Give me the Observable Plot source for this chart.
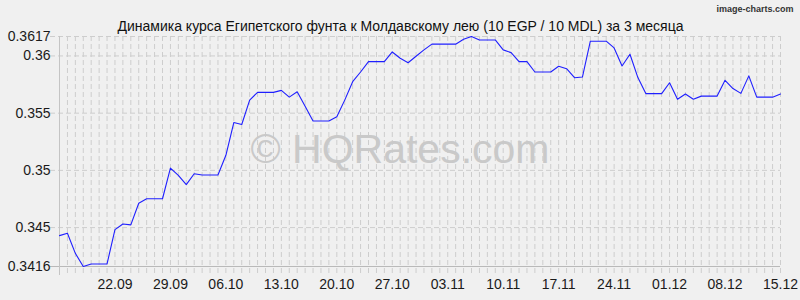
<!DOCTYPE html>
<html><head><meta charset="utf-8">
<script src="https://cdn.jsdelivr.net/npm/d3@7"></script>
<script src="https://cdn.jsdelivr.net/npm/@observablehq/plot@0.6"></script>
<style>html,body{margin:0;padding:0;background:#f0f0f0} svg{display:block}</style>
</head><body><div id="chart"></div>
<script>
const title = "Динамика курса Египетского фунта к Молдавскому лею (10 EGP / 10 MDL) за 3 месяца";
const brand = "image-charts.com";
const watermark = "© HQRates.com";

const dates = [
 "2025-09-15","2025-09-16","2025-09-17","2025-09-18","2025-09-19","2025-09-20","2025-09-21","2025-09-22",
 "2025-09-23","2025-09-24","2025-09-25","2025-09-26","2025-09-27","2025-09-28","2025-09-29","2025-09-30",
 "2025-10-01","2025-10-02","2025-10-03","2025-10-04","2025-10-05","2025-10-06","2025-10-07","2025-10-08",
 "2025-10-09","2025-10-10","2025-10-11","2025-10-12","2025-10-13","2025-10-14","2025-10-15","2025-10-16",
 "2025-10-17","2025-10-18","2025-10-19","2025-10-20","2025-10-21","2025-10-22","2025-10-23","2025-10-24",
 "2025-10-25","2025-10-26","2025-10-27","2025-10-28","2025-10-29","2025-10-30","2025-10-31","2025-11-01",
 "2025-11-02","2025-11-03","2025-11-04","2025-11-05","2025-11-06","2025-11-07","2025-11-08","2025-11-09",
 "2025-11-10","2025-11-11","2025-11-12","2025-11-13","2025-11-14","2025-11-15","2025-11-16","2025-11-17",
 "2025-11-18","2025-11-19","2025-11-20","2025-11-21","2025-11-22","2025-11-23","2025-11-24","2025-11-25",
 "2025-11-26","2025-11-27","2025-11-28","2025-11-29","2025-11-30","2025-12-01","2025-12-02","2025-12-03",
 "2025-12-04","2025-12-05","2025-12-06","2025-12-07","2025-12-08","2025-12-09","2025-12-10","2025-12-11",
 "2025-12-12","2025-12-13","2025-12-14","2025-12-15"
];
const rates = [
 0.3443,0.3445,0.34275,0.3416,0.34182,0.34182,0.34182,0.34482,
 0.34532,0.34524,0.34713,0.34752,0.34752,0.34752,0.3502,0.34956,
 0.34875,0.34971,0.34959,0.34959,0.34959,0.35132,0.35418,0.35401,
 0.35614,0.35682,0.35682,0.35682,0.35699,0.3564,0.35687,0.35561,
 0.35432,0.35432,0.35432,0.35468,0.35614,0.35775,0.3586,0.3595,
 0.3595,0.3595,0.36035,0.3598,0.35941,0.35997,0.36053,0.36103,
 0.36103,0.36103,0.36103,0.36146,0.3617,0.3614,0.3614,0.3614,
 0.36053,0.36029,0.3595,0.3595,0.3586,0.3586,0.3586,0.3591,
 0.35889,0.3581,0.35816,0.36129,0.36129,0.36129,0.3607,0.35912,
 0.36015,0.35811,0.35671,0.35671,0.35671,0.35766,0.35621,0.35668,
 0.35621,0.35649,0.35649,0.35649,0.35787,0.35715,0.35673,0.35826,
 0.3564,0.3564,0.3564,0.35667
];
const xTicks = ["2025-09-22","2025-09-29","2025-10-06","2025-10-13","2025-10-20","2025-10-27",
 "2025-11-03","2025-11-10","2025-11-17","2025-11-24","2025-12-01","2025-12-08","2025-12-15"];
const yTicks = [0.3416, 0.345, 0.35, 0.355, 0.36, 0.3617];

const data = dates.map((d, i) => ({date: new Date(d), rate: rates[i]}));

const chart = Plot.plot({
  width: 800, height: 300,
  marginLeft: 59, marginRight: 20, marginTop: 36, marginBottom: 34,
  style: {background: "#f0f0f0", fontFamily: "'Liberation Sans', Arial, sans-serif", fontSize: "14px", color: "#1a1a1a"},
  x: {type: "utc", domain: [new Date(dates[0]), new Date(dates[dates.length - 1])], label: null},
  y: {domain: [yTicks[0], yTicks[yTicks.length - 1]], label: null},
  marks: [
    Plot.ruleX(data, {x: "date", stroke: "#cdcdcd", strokeDasharray: "5,3", insetBottom: -9}),
    Plot.ruleY(yTicks.slice(1), {stroke: "#cdcdcd", strokeDasharray: "5,3", insetLeft: -9}),
    Plot.ruleY([yTicks[0]], {stroke: "#b9b9b9", insetLeft: -9}),
    Plot.ruleX([data[0].date], {stroke: "#c4c4c4", insetBottom: -9}),
    Plot.axisY({ticks: yTicks, tickSize: 0, tickPadding: 9, tickFormat: d => String(d), fontSize: 14, label: null}),
    Plot.axisX({ticks: xTicks.map(d => new Date(d)), tickSize: 0, tickPadding: 13, tickFormat: d3.utcFormat("%d.%m"), fontSize: 14, label: null}),
    Plot.text([watermark], {frameAnchor: "middle", dx: -20, dy: -2, fontSize: 41, fill: "#c9c9c9"}),
    Plot.text([title], {frameAnchor: "top", dx: -19.5, dy: -15.5, fontSize: 14, fill: "#111"}),
    Plot.text([brand], {frameAnchor: "top-right", textAnchor: "end", dx: 13, dy: -31, fontSize: 9, fill: "#333", fontWeight: "bold"}),
    Plot.line(data, {x: "date", y: "rate", stroke: "#1f1fff", strokeWidth: 1.1})
  ]
});
document.getElementById("chart").append(chart);
</script>
</body></html>
